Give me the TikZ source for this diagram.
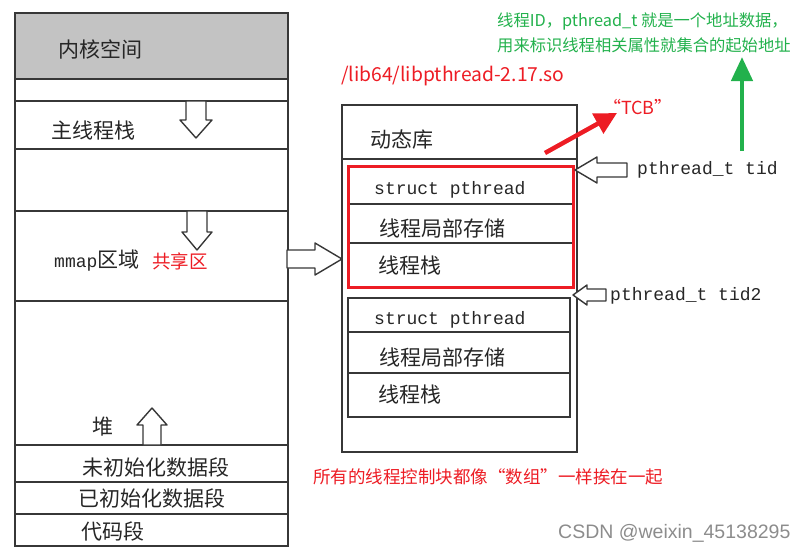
\documentclass[tikz,border=0pt]{standalone}
\usepackage{fontspec}
\setmainfont{Noto Sans CJK SC}
\newfontfamily\monof{Liberation Mono}
\newfontfamily\latf{Liberation Sans}
\usetikzlibrary{arrows.meta}
\definecolor{sketch}{RGB}{55,55,55}
\definecolor{myred}{RGB}{237,28,36}
\definecolor{mygreen}{RGB}{34,177,76}
\definecolor{kgray}{RGB}{195,195,195}
\newcommand{\harrow}[6]{% tip, angle, L, headlen, headhalf, shafthalf
  \draw[hollow, shift={#1}, rotate=#2] (0,0) -- (-#4,#5) -- (-#4,#6) -- (-#3,#6) -- (-#3,-#6) -- (-#4,-#6) -- (-#4,-#5) -- cycle;}
\begin{document}
\begin{tikzpicture}[x=1pt,y=-1pt,
  box/.style={draw=sketch, line width=1.5pt, inner sep=0pt, anchor=north west},
  seg/.style={draw=sketch, line width=1.5pt},
  hollow/.style={draw=sketch, fill=white, line width=1.4pt, line join=round},
  lbl/.style={inner sep=0pt, anchor=west, font=\fontsize{21}{21}\selectfont, text=black!85},
  code/.style={inner sep=0pt, anchor=west, font=\monof\fontsize{18}{18}\selectfont, text=black!85},
  redtxt/.style={inner sep=0pt, anchor=west, text=myred},
  greentxt/.style={inner sep=0pt, anchor=west, text=mygreen, font=\fontsize{16.3}{16.3}\selectfont},
]
\useasboundingbox (0,0) rectangle (806,554);
% left memory column
\fill[kgray] (14,12) rectangle (287,79);
\node[box, minimum width=273pt, minimum height=533pt] (mem) at (14,12) {};
\foreach \yy in {79,101,149,211,301,445,482,514}
  \draw[seg] (14,\yy) -- (287,\yy);
\node[lbl] (kernel) at (58,49) {内核空间};
\node[lbl] (mainstack) at (51,130) {主线程栈};
\node[lbl] (mmap) at (54,261) {{\monof\fontsize{18}{18}\selectfont mmap}区域};
\node[redtxt, font=\fontsize{18.5}{18.5}\selectfont] (shared) at (152,261) {共享区};
\node[lbl] (heap) at (92,427) {堆};
\node[lbl] (bss) at (82,467) {未初始化数据段};
\node[lbl] (data) at (78,498) {已初始化数据段};
\node[lbl] (text) at (81,531) {代码段};
\harrow{(196,138)}{-90}{37}{18}{16}{10}
\harrow{(197,250)}{-90}{39}{18}{15}{10}
\harrow{(152,408)}{90}{37}{17}{15}{9}
\harrow{(342,259)}{0}{55}{27}{16}{9}
% dynamic library
\node[redtxt, font=\fontsize{19.3}{19.3}\selectfont] (libpath) at (341,76) {/lib64/libpthread-2.17.so};
\node[box, minimum width=235pt, minimum height=347pt] (lib) at (341,104) {};
\draw[seg] (341,159) -- (576,159);
\node[lbl] (dyn) at (370,140) {动态库};
% first TCB
\draw[seg] (347,204) -- (572,204);
\draw[seg] (347,243) -- (572,243);
\node[box, draw=myred, line width=3pt, minimum width=225pt, minimum height=121pt] (tcb1) at (347,165) {};
\node[code] (sp1) at (374,190) {struct pthread};
\node[lbl] (tls1) at (379,228) {线程局部存储};
\node[lbl] (ts1) at (378,265) {线程栈};
% second TCB
\node[box, minimum width=222pt, minimum height=119pt] (tcb2) at (347,297) {};
\draw[seg] (347,332) -- (569,332);
\draw[seg] (347,373) -- (569,373);
\node[code] (sp2) at (374,320) {struct pthread};
\node[lbl] (tls2) at (379,357) {线程局部存储};
\node[lbl] (ts2) at (378,394) {线程栈};
% tid labels
\node[code] (tid) at (637,170) {pthread\_t tid};
\node[code] (tid2) at (610,296) {pthread\_t tid2};
\harrow{(575,170)}{180}{52}{22}{13}{7}
\harrow{(573,295)}{180}{33}{14}{10}{6}
% annotations
\node[redtxt, font=\fontsize{18}{18}\selectfont] (tcb) at (603,107) {“TCB”};
\coordinate (redtail) at (545,153);
\coordinate (redtip) at (617,113);
\draw[myred, line width=4.5pt, -{Triangle[length=22pt,width=22pt]}] (redtail) -- (redtip);
\node[greentxt] (g1) at (497,22) {线程ID，pthread\_t 就是一个地址数据，};
\node[greentxt] (g2) at (497,45) {用来标识线程相关属性就集合的起始地址};
\coordinate (gtail) at (742,151);
\coordinate (gtip) at (742,57);
\draw[mygreen, line width=4.5pt, -{Triangle[length=24pt,width=21pt]}] (gtail) -- (gtip);
\node[redtxt, font=\fontsize{17.5}{17.5}\selectfont] (allnote) at (313,477) {所有的线程控制块都像“数组”一样挨在一起};
\node[inner sep=0pt, anchor=west, text=black!45, font=\latf\fontsize{19.5}{19.5}\selectfont] (wm) at (558,533) {CSDN @weixin\_45138295};
\end{tikzpicture}
\end{document}
